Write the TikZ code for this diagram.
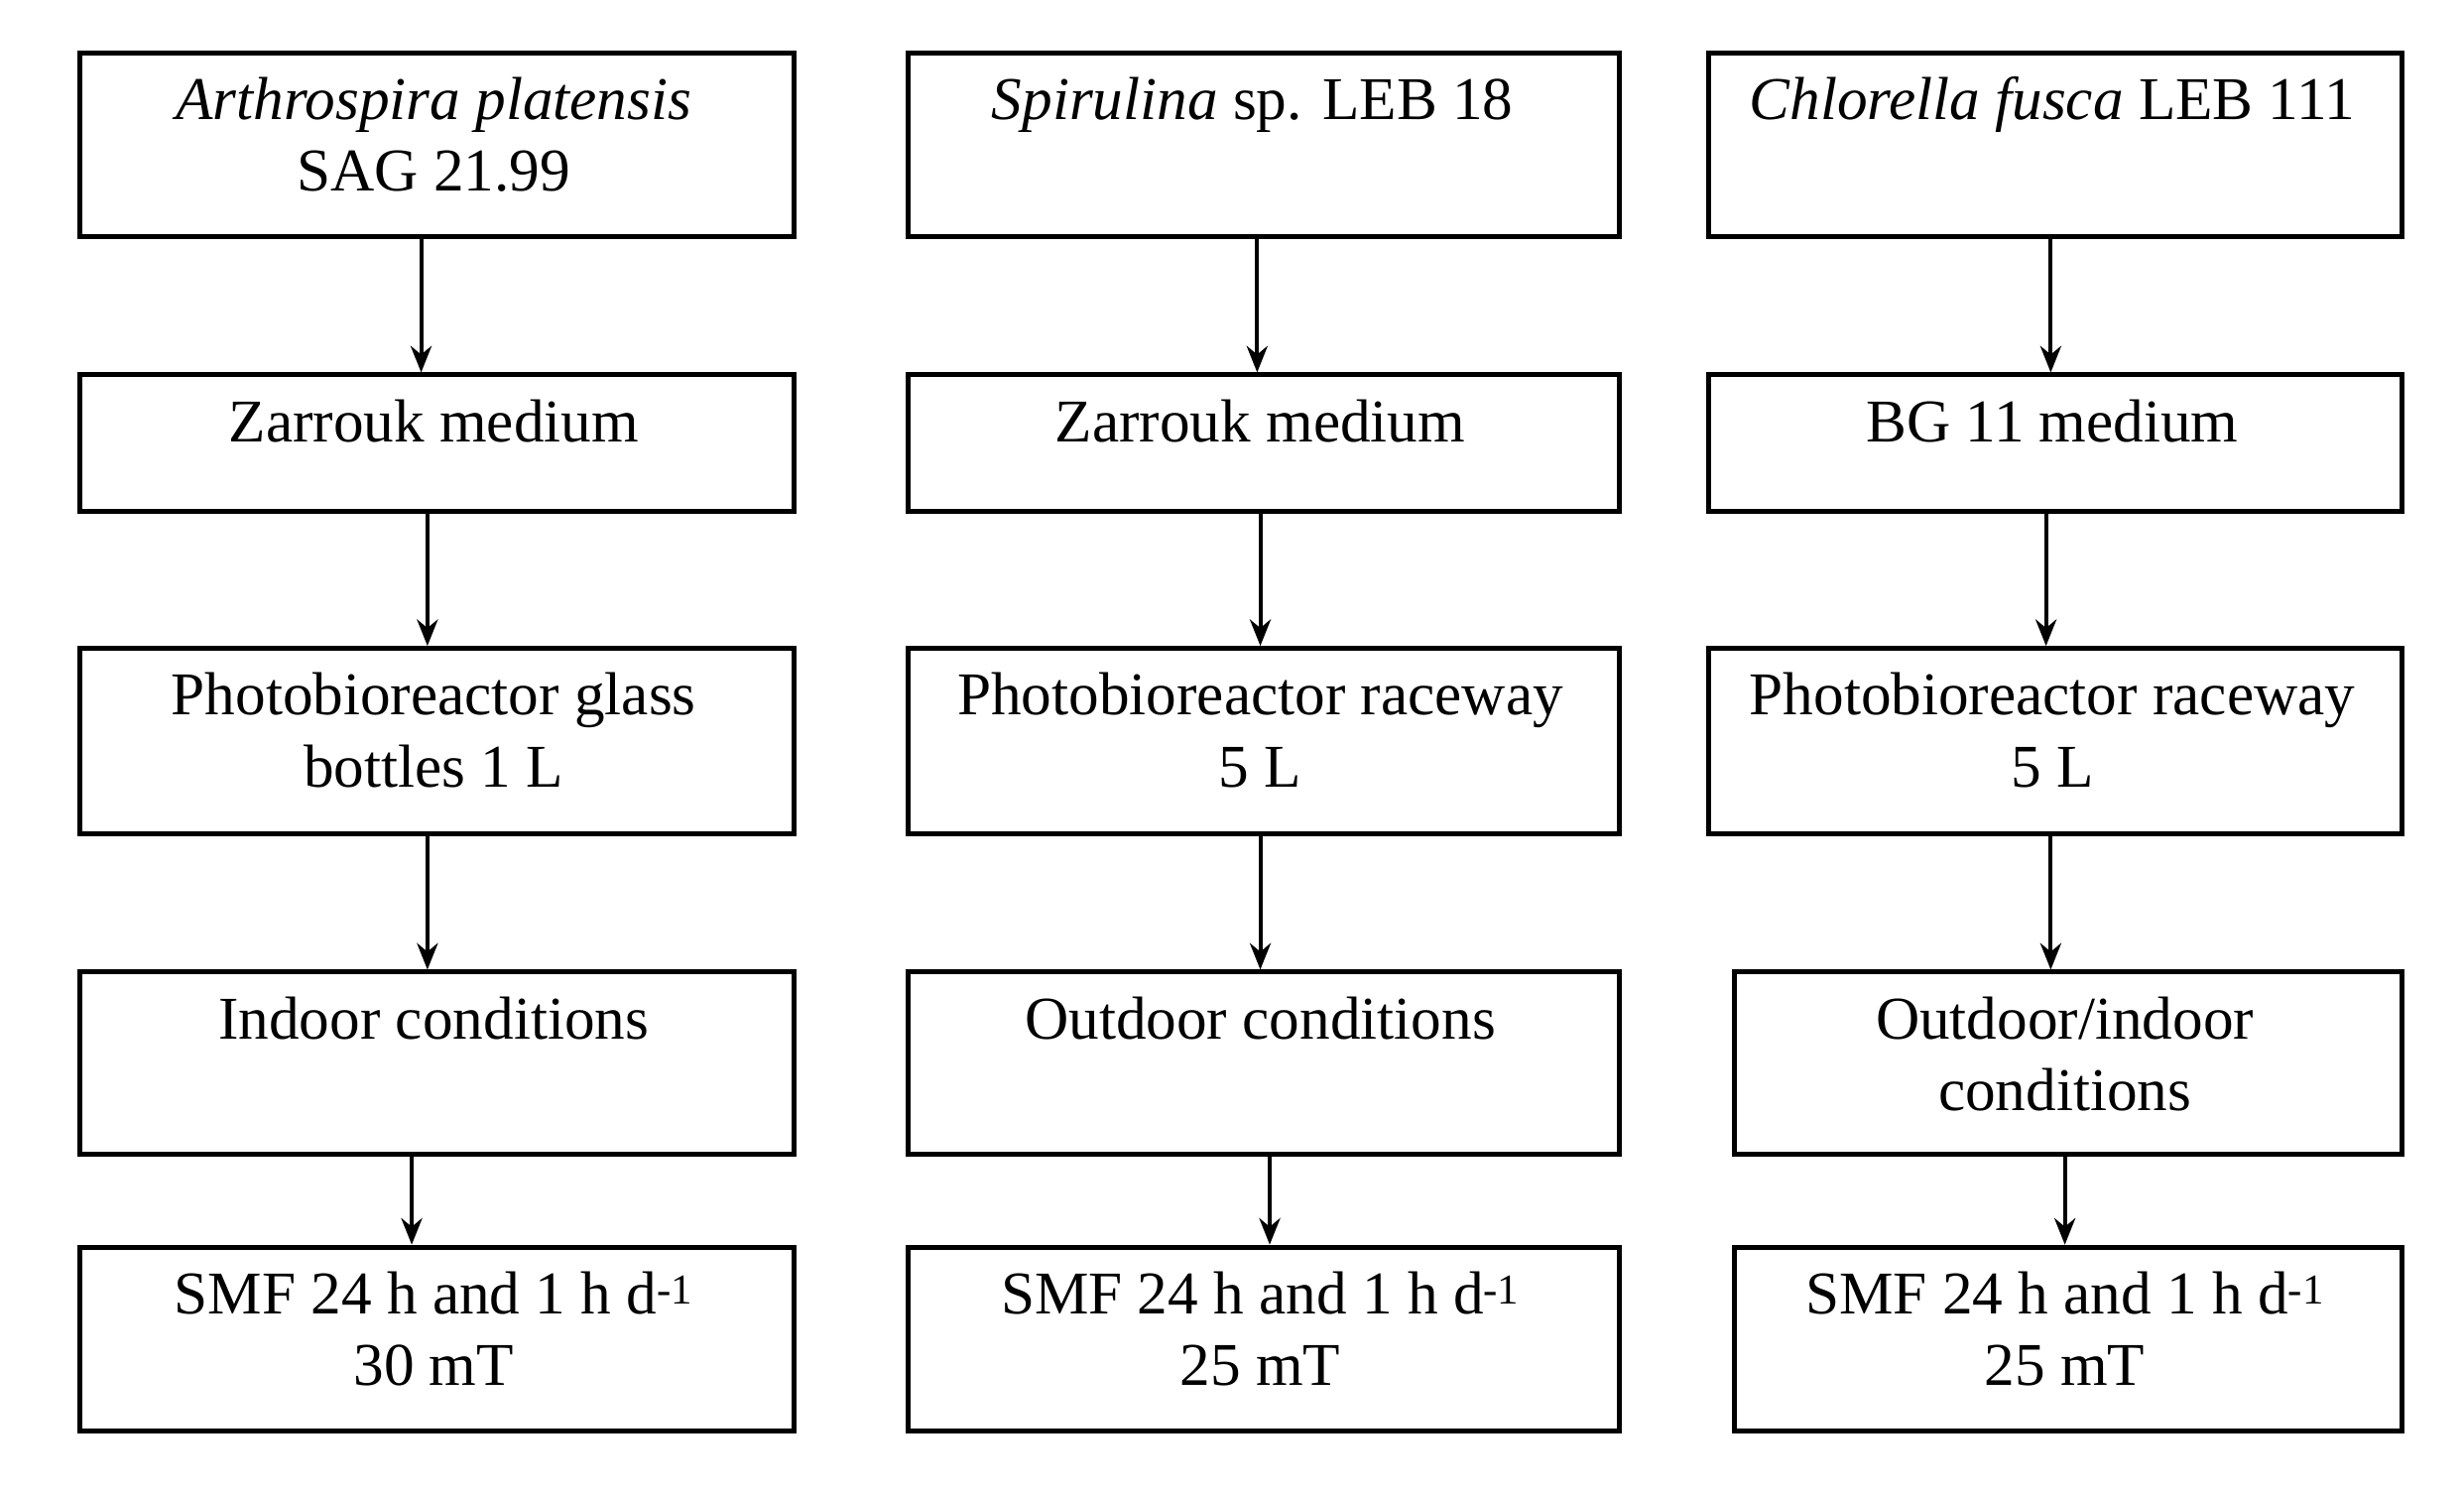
\documentclass[tikz,border=0pt]{standalone}
\usepackage{fontspec}
\setmainfont{Liberation Serif}
\usetikzlibrary{arrows.meta}
\begin{document}
\begin{tikzpicture}[x=0.05cm,y=-0.05cm,
  box/.style={draw,line width=4.5pt,anchor=north west,inner xsep=0pt,inner ysep=0pt},
  txt/.style={font=\fontsize{55}{65}\selectfont,align=center,anchor=north,inner sep=0pt},
  arr/.style={line width=3.6pt,-{Stealth[length=24pt,width=19pt]}}]
\useasboundingbox (0,0) rectangle (1568,950);
\newcommand{\bx}[7]{% name,x1,y1,x2,y2,textcenterx,text
  \node[box,minimum width={(#4-#2)*0.05cm},minimum height={(#5-#3)*0.05cm}] (#1) at (#2,#3) {};
  \node[txt] at (#6,#3+17) {#7};}
\bx{a1}{49}{32}{504}{149}{276}{\textit{Arthrospira platensis}\\SAG 21.99}
\bx{a2}{49}{237}{504}{324}{276}{Zarrouk medium}
\bx{a3}{49}{411}{504}{529}{276}{Photobioreactor glass\\bottles 1 L}
\bx{a4}{49}{617}{504}{733}{276}{Indoor conditions}
\bx{a5}{49}{792}{504}{909}{276}{SMF 24 h and 1 h d\textsuperscript{-1}\\30 mT}
\bx{b1}{576}{32}{1029}{149}{797}{\textit{Spirulina} sp. LEB 18}
\bx{b2}{576}{237}{1029}{324}{802}{Zarrouk medium}
\bx{b3}{576}{411}{1029}{529}{802}{Photobioreactor raceway\\5 L}
\bx{b4}{576}{617}{1029}{733}{802}{Outdoor conditions}
\bx{b5}{576}{792}{1029}{909}{802}{SMF 24 h and 1 h d\textsuperscript{-1}\\25 mT}
\bx{c1}{1086}{32}{1527}{149}{1306}{\textit{Chlorella fusca} LEB 111}
\bx{c2}{1086}{237}{1527}{324}{1306}{BG 11 medium}
\bx{c3}{1086}{411}{1527}{529}{1306}{Photobioreactor raceway\\5 L}
\bx{c4}{1102}{617}{1527}{733}{1314}{Outdoor/indoor\\conditions}
\bx{c5}{1102}{792}{1527}{909}{1314}{SMF 24 h and 1 h d\textsuperscript{-1}\\25 mT}
\draw[arr] (268,0 |- a1.south) -- (268,0 |- a2.north);
\draw[arr] (272,0 |- a2.south) -- (272,0 |- a3.north);
\draw[arr] (272,0 |- a3.south) -- (272,0 |- a4.north);
\draw[arr] (262,0 |- a4.south) -- (262,0 |- a5.north);
\draw[arr] (800,0 |- b1.south) -- (800,0 |- b2.north);
\draw[arr] (802,0 |- b2.south) -- (802,0 |- b3.north);
\draw[arr] (802,0 |- b3.south) -- (802,0 |- b4.north);
\draw[arr] (808,0 |- b4.south) -- (808,0 |- b5.north);
\draw[arr] (1305,0 |- c1.south) -- (1305,0 |- c2.north);
\draw[arr] (1302,0 |- c2.south) -- (1302,0 |- c3.north);
\draw[arr] (1305,0 |- c3.south) -- (1305,0 |- c4.north);
\draw[arr] (1314,0 |- c4.south) -- (1314,0 |- c5.north);
\end{tikzpicture}
\end{document}
